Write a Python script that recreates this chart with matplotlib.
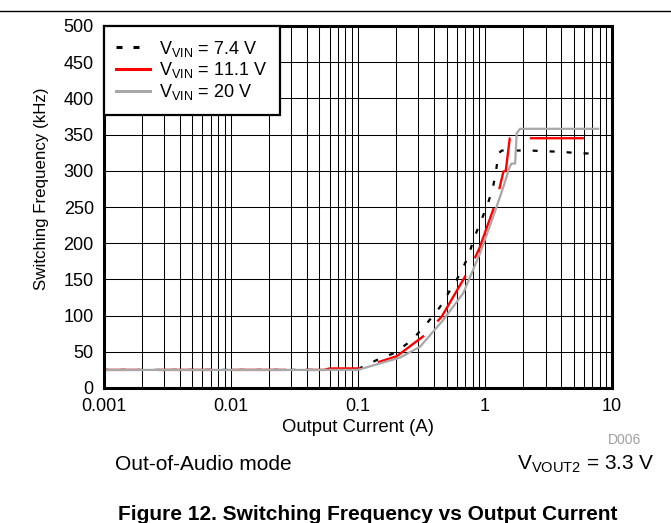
import matplotlib
matplotlib.use("Agg")
import matplotlib.pyplot as plt
from matplotlib.lines import Line2D
import numpy as np

plt.rcParams['font.family'] = ['Liberation Sans', 'DejaVu Sans']
plt.rcParams['mathtext.fontset'] = 'custom'
plt.rcParams['mathtext.rm'] = 'Liberation Sans'
plt.rcParams['mathtext.it'] = 'Liberation Sans:italic'
plt.rcParams['mathtext.bf'] = 'Liberation Sans:bold'
plt.rcParams['lines.scale_dashes'] = False

# ---- data ----
i_74 = [0.001, 0.1, 0.108, 0.145, 0.196, 0.266, 0.349, 0.444, 0.532, 0.64, 0.741,
        0.822, 0.929, 1.047, 1.155, 1.225, 1.277, 1.36, 1.675, 2.27, 3.07, 4.15, 5.7, 7.8]
f_74 = [25, 25, 29, 39.6, 48.7, 66, 89, 112, 135, 158, 182,
        207, 230, 253, 276, 300, 324, 328, 328, 328, 327, 326, 324, 324]

i_111 = [0.001, 0.055, 0.06, 0.1, 0.141, 0.203, 0.337, 0.457, 0.775, 0.906, 1.25,
         1.34, 1.40, 1.46, 1.57, 1.73, 2.34, 5.9, 7.8]
f_111 = [25, 25, 27, 27, 35, 44, 73, 98.5, 167.5, 193, 262,
         285, 299, 300, 345, 345, 345, 345, 345]

i_20 = [0.001, 0.1, 0.215, 0.309, 0.471, 0.676, 0.915, 1.164, 1.40, 1.57, 1.62,
        1.73, 1.78, 1.89, 7.8]
f_20 = [25, 25, 42, 57, 94, 131, 186, 237, 278, 306, 310,
        310, 352, 358, 358]

labels = [r'V$_{\rm VIN}$ = 7.4 V', r'V$_{\rm VIN}$ = 11.1 V', r'V$_{\rm VIN}$ = 20 V']
x_ticks = [0.001, 0.01, 0.1, 1, 10]
x_ticklabels = ['0.001', '0.01', '0.1', '1', '10']
y_ticks = list(range(0, 501, 50))

W, H = 671, 523
fig = plt.figure(figsize=(W / 100, H / 100), dpi=100)
ax = fig.add_axes([103.5 / W, 1 - 388 / H, 508.5 / W, 362 / H])

ax.set_xscale('log')
ax.set_xlim(0.001, 10)
ax.set_ylim(0, 500)

ax.grid(True, which='major', axis='both', color='black', linewidth=0.75)
ax.grid(True, which='minor', axis='x', color='black', linewidth=0.75)
ax.set_axisbelow(True)

px = 0.72  # points per pixel at 100 dpi
l1, = ax.plot(i_74, f_74, color='black', linewidth=1.6, zorder=3)
l1.set_linestyle((0, (5 * px, 12 * px)))
l2, = ax.plot(i_111, f_111, color='#ff0000', linewidth=1.7, zorder=4)
l2.set_linestyle((18.5 * px, (54 * px, 19.5 * px)))
l3, = ax.plot(i_20, f_20, color='#a8a8a8', linewidth=1.6, zorder=5)

ax.set_xticks(x_ticks)
ax.set_xticklabels(x_ticklabels)
ax.set_yticks(y_ticks)
ax.tick_params(axis='both', which='both', length=0, labelsize=13)
ax.tick_params(axis='y', pad=7)
ax.tick_params(axis='x', pad=7)

for s in ax.spines.values():
    s.set_linewidth(2.2)
    s.set_color('black')
    s.set_zorder(10)

ax.set_xlabel('Output Current (A)', fontsize=13.3, labelpad=3)
fig.text(42 / W, 1 - 189 / H, 'Switching Frequency (kHz)', fontsize=12.2,
         rotation=90, ha='center', va='center')

h1 = Line2D([], [], color='black', linewidth=2.2, linestyle=(0, (6 * px, 11 * px)))
h2 = Line2D([], [], color='#ff0000', linewidth=2.2)
h3 = Line2D([], [], color='#a8a8a8', linewidth=2.2)
leg = ax.legend([h1, h2, h3], labels, loc='upper left', bbox_to_anchor=(0, 1),
                borderaxespad=0, fontsize=13, frameon=True, fancybox=False,
                framealpha=1, edgecolor='black', handlelength=1.9,
                handletextpad=0.5, labelspacing=0.1, borderpad=0.7)
leg.get_frame().set_linewidth(1.6)
leg.set_zorder(20)

fig.add_artist(Line2D([0, 1], [1 - 10.5 / H, 1 - 10.5 / H], transform=fig.transFigure,
                      color='black', linewidth=1.0))

fig.text(641 / W, 1 - 440 / H, 'D006', fontsize=10, color='#a0a0a0', ha='right', va='center')
fig.text(115 / W, 1 - 464 / H, 'Out-of-Audio mode', fontsize=15, ha='left', va='center')
fig.text(655 / W, 1 - 464 / H, r'V$_{\rm VOUT2}$ = 3.3 V', fontsize=15, ha='right', va='center')
fig.text(368 / W, 1 - 514 / H, 'Figure 12. Switching Frequency vs Output Current',
         fontsize=15, fontweight='bold', ha='center', va='center')

fig.savefig('out.png', dpi=100)
